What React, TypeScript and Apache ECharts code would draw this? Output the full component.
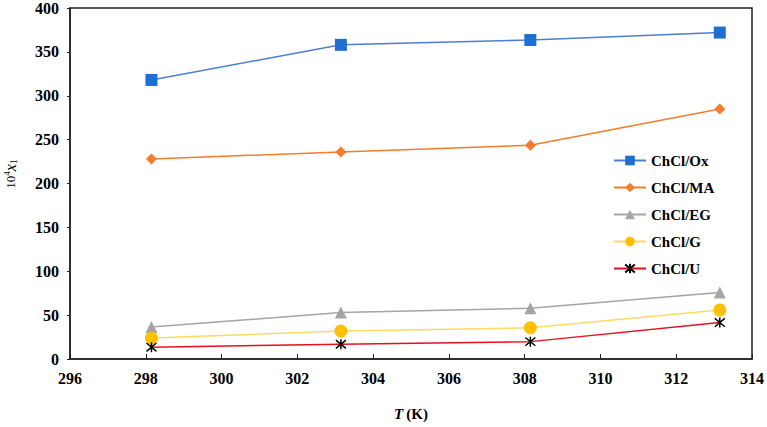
import React, { useEffect, useRef } from "react";
import * as echarts from "echarts";

const temps = [298.15, 303.15, 308.15, 313.15];
const ox = [318, 358, 363.5, 372];
const ma = [228, 236, 243.5, 285];
const eg = [36.5, 53, 57.8, 75.8];
const gl = [23.8, 31.8, 35.5, 55.8];
const ur = [13.5, 16.8, 19.8, 41.5];
const seriesNames = ["ChCl/Ox", "ChCl/MA", "ChCl/EG", "ChCl/G", "ChCl/U"];

const FONT = "Times New Roman, Liberation Serif, serif";
const asterisk = "path://M0,0 L10,10 M10,0 L0,10 M5,-1 L5,11";

export default function App() {
  const ref = useRef<HTMLDivElement>(null);
  useEffect(() => {
    document.body.style.margin = "0";
    const chart = echarts.init(ref.current!, null, { renderer: "svg" });
    const pts = (arr: number[]) => temps.map((t, i) => [t, arr[i]]);
    const mk = (name: string, data: number[], color: string, symbol: string, size: number, extra: any = {}) => ({
      name,
      type: "line",
      data: pts(data),
      symbol,
      symbolSize: size,
      lineStyle: { color: extra.lineColor || color, width: 1.5 },
      itemStyle: extra.itemStyle || { color },
      z: extra.z || 2,
    });
    const tickLabel = {
      fontFamily: FONT,
      fontWeight: "bold",
      fontSize: 16,
      color: "#000",
    };
    chart.setOption({
      animation: false,
      textStyle: { fontFamily: FONT },
      grid: { left: 70, right: 14, top: 7, bottom: 68, show: true, borderColor: "#222", borderWidth: 1.5, backgroundColor: "transparent" },
      legend: {
        orient: "vertical",
        left: 613,
        top: 153,
        padding: 0,
        itemWidth: 32,
        itemHeight: 12,
        itemGap: 12,
        data: seriesNames,
        textStyle: { fontFamily: FONT, fontWeight: "bold", fontSize: 15, color: "#000" },
      },
      graphic: [
        {
          type: "text",
          x: 10,
          y: 174,
          rotation: Math.PI / 2,
          style: {
            text: "{n|10}{s|4}{x|x}{d|1}",
            align: "center",
            verticalAlign: "middle",
            rich: {
              n: { fontFamily: FONT, fontSize: 13, fill: "#000" },
              s: { fontFamily: FONT, fontSize: 9, fill: "#000", verticalAlign: "top", padding: [0, 0, 6, 0] },
              x: { fontFamily: FONT, fontStyle: "italic", fontSize: 16, fill: "#000" },
              d: { fontFamily: FONT, fontSize: 10, fill: "#000", verticalAlign: "bottom", padding: [6, 0, 0, 0] },
            },
          },
        },
      ],
      xAxis: {
        type: "value",
        min: 296,
        max: 314,
        interval: 2,
        axisLine: { lineStyle: { color: "#222", width: 1.5 } },
        axisTick: { inside: true, length: 5, lineStyle: { color: "#222" } },
        axisLabel: { ...tickLabel, margin: 11 },
        splitLine: { show: false },
        name: "{i|T} {b|(K)}",
        nameLocation: "middle",
        nameGap: 47,
        nameTextStyle: {
          rich: {
            i: { fontFamily: FONT, fontStyle: "italic", fontWeight: "bold", fontSize: 15, color: "#000" },
            b: { fontFamily: FONT, fontWeight: "bold", fontSize: 15, color: "#000" },
          },
        },
      },
      yAxis: {
        type: "value",
        min: 0,
        max: 400,
        interval: 50,
        axisLine: { show: true, lineStyle: { color: "#222", width: 1.5 } },
        axisTick: { show: true, inside: false, length: 3, lineStyle: { color: "#222" } },
        axisLabel: { ...tickLabel, margin: 11 },
        splitLine: { show: false },
      },
      series: [
        mk("ChCl/Ox", ox, "#1f6fd0", "rect", 12, { lineColor: "#4a7fd0" }),
        mk("ChCl/MA", ma, "#f47c2c", "diamond", 11),
        mk("ChCl/EG", eg, "#a5a5a5", "triangle", 12),
        mk("ChCl/G", gl, "#ffc000", "circle", 13, { lineColor: "#ffd966" }),
        mk("ChCl/U", ur, "#e5101f", asterisk, 10, {
          itemStyle: { color: "none", borderColor: "#000", borderWidth: 1.5 },
          z: 3,
        }),
      ],
    });
    return () => chart.dispose();
  }, []);
  return <div ref={ref} style={{ width: 767, height: 427 }} />;
}
